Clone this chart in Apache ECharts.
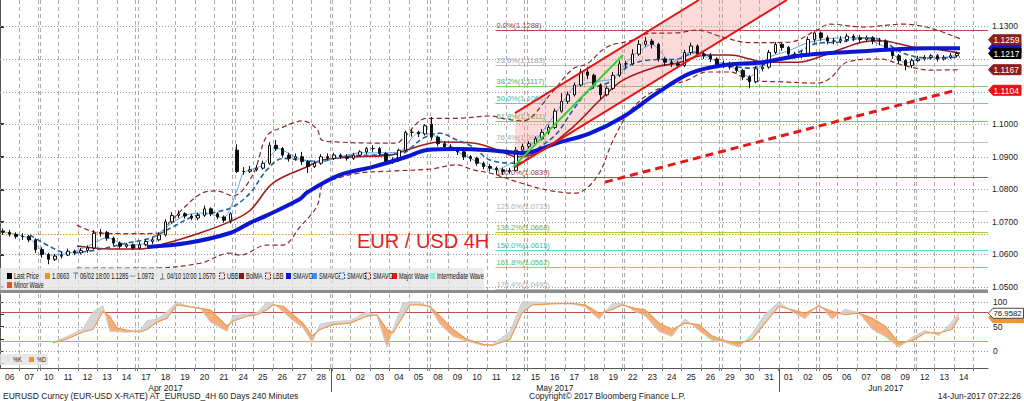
<!DOCTYPE html>
<html><head><meta charset="utf-8">
<script src="https://cdn.jsdelivr.net/npm/echarts@6/dist/echarts.min.js"></script>
<style>html,body{margin:0;padding:0;background:#fff}#c{width:1024px;height:401px}</style>
</head><body><div id="c"></div><script>
// ---------------- DATA ----------------
const dayLabels = ['06','07','10','11','12','13','14','17','18','19','20','21','24','25','26','27','28','01','02','03','04','05','08','09','10','11','12','15','16','17','18','19','22','23','24','25','26','29','30','31','01','02','05','06','07','08','09','12','13','14'];
const monthLabels = ['Apr 2017','May 2017','Jun 2017'];
const monthDayIdx = [8, 28, 45];
const monthBreaks = [17, 40];
const weekendBreaks = [2,7,12,17,22,27,32,37,42,47];
const priceGrid = [1.05,1.06,1.07,1.08,1.09,1.10,1.11,1.12,1.13];
const priceLabels = [1.05,1.06,1.07,1.08,1.09,1.10,1.13];
const stochGrid = [100,50,0];
const stochLabels = [0,50,100];
const stochTicks = [-25,0,25,50,75,100];
const stochUpper = 80, stochLower = 20;

// 4H-style candles, 3 per day: [open, close, low, high]
const ohlc = [
[1.0672,1.0668,1.0660,1.0680],[1.0668,1.0662,1.0655,1.0675],[1.0662,1.0655,1.0648,1.0668],
[1.0655,1.0655,1.0645,1.0665],[1.0655,1.0645,1.0638,1.0660],[1.0645,1.0615,1.0605,1.0650],
[1.0615,1.0600,1.0590,1.0622],[1.0600,1.0585,1.0570,1.0605],[1.0585,1.0595,1.0580,1.0602],
[1.0595,1.0598,1.0588,1.0608],[1.0598,1.0610,1.0595,1.0618],[1.0610,1.0605,1.0598,1.0615],
[1.0605,1.0612,1.0600,1.0620],[1.0612,1.0620,1.0605,1.0628],[1.0620,1.0665,1.0615,1.0675],
[1.0665,1.0668,1.0655,1.0678],[1.0668,1.0650,1.0642,1.0672],[1.0650,1.0635,1.0628,1.0655],
[1.0635,1.0625,1.0618,1.0640],[1.0625,1.0630,1.0620,1.0636],[1.0630,1.0620,1.0615,1.0634],
[1.0620,1.0630,1.0615,1.0638],[1.0630,1.0640,1.0625,1.0648],[1.0640,1.0645,1.0632,1.0652],
[1.0645,1.0660,1.0640,1.0668],[1.0660,1.0700,1.0655,1.0708],[1.0700,1.0720,1.0695,1.0730],
[1.0720,1.0725,1.0712,1.0735],[1.0725,1.0718,1.0710,1.0730],[1.0718,1.0712,1.0705,1.0725],
[1.0712,1.0720,1.0705,1.0728],[1.0720,1.0740,1.0715,1.0750],[1.0740,1.0725,1.0718,1.0745],
[1.0725,1.0715,1.0708,1.0730],[1.0715,1.0705,1.0698,1.0720],[1.0705,1.0725,1.0695,1.0730],
[1.0920,1.0855,1.0850,1.0938],[1.0855,1.0855,1.0845,1.0868],[1.0855,1.0860,1.0850,1.0872],
[1.0860,1.0865,1.0855,1.0875],[1.0865,1.0880,1.0860,1.0888],[1.0880,1.0935,1.0875,1.0945],
[1.0935,1.0925,1.0918,1.0951],[1.0925,1.0905,1.0898,1.0930],[1.0905,1.0895,1.0885,1.0912],
[1.0895,1.0900,1.0888,1.0910],[1.0900,1.0885,1.0875,1.0915],[1.0885,1.0870,1.0850,1.0890],
[1.0870,1.0880,1.0865,1.0888],[1.0880,1.0900,1.0875,1.0908],[1.0900,1.0895,1.0888,1.0910],
[1.0895,1.0905,1.0890,1.0912],[1.0905,1.0900,1.0893,1.0910],[1.0900,1.0895,1.0888,1.0908],
[1.0895,1.0905,1.0890,1.0912],[1.0905,1.0915,1.0900,1.0920],[1.0915,1.0925,1.0908,1.0930],
[1.0925,1.0925,1.0915,1.0935],[1.0925,1.0910,1.0902,1.0930],[1.0910,1.0885,1.0875,1.0915],
[1.0885,1.0890,1.0878,1.0898],[1.0890,1.0920,1.0885,1.0925],[1.0920,1.0975,1.0915,1.0980],
[1.0975,1.0975,1.0962,1.0985],[1.0975,1.0970,1.0960,1.0980],[1.0970,1.0995,1.0965,1.1000],
[1.1000,1.0960,1.0950,1.1022],[1.0960,1.0940,1.0932,1.0965],[1.0940,1.0930,1.0922,1.0948],
[1.0930,1.0925,1.0918,1.0938],[1.0925,1.0915,1.0905,1.0930],[1.0915,1.0900,1.0890,1.0920],
[1.0900,1.0895,1.0885,1.0905],[1.0895,1.0880,1.0872,1.0900],[1.0880,1.0870,1.0862,1.0885],
[1.0870,1.0865,1.0855,1.0878],[1.0865,1.0860,1.0845,1.0870],[1.0860,1.0855,1.0844,1.0866],
[1.0855,1.0858,1.0848,1.0866],[1.0858,1.0920,1.0855,1.0930],[1.0920,1.0932,1.0915,1.0940],
[1.0932,1.0940,1.0925,1.0948],[1.0940,1.0955,1.0935,1.0962],[1.0955,1.0975,1.0950,1.0985],
[1.0975,1.0990,1.0968,1.0998],[1.0990,1.1040,1.0985,1.1048],[1.1040,1.1070,1.1035,1.1095],
[1.1070,1.1090,1.1062,1.1100],[1.1090,1.1120,1.1085,1.1128],[1.1120,1.1160,1.1115,1.1170],
[1.1160,1.1150,1.1138,1.1176],[1.1150,1.1120,1.1110,1.1155],[1.1120,1.1090,1.1077,1.1125],
[1.1090,1.1110,1.1085,1.1118],[1.1110,1.1150,1.1105,1.1160],[1.1150,1.1185,1.1145,1.1195],
[1.1185,1.1185,1.1172,1.1195],[1.1185,1.1215,1.1180,1.1230],[1.1215,1.1245,1.1210,1.1258],
[1.1245,1.1255,1.1238,1.1268],[1.1255,1.1245,1.1232,1.1262],[1.1245,1.1200,1.1192,1.1250],
[1.1200,1.1190,1.1178,1.1205],[1.1190,1.1185,1.1175,1.1198],[1.1185,1.1180,1.1172,1.1195],
[1.1180,1.1220,1.1175,1.1228],[1.1220,1.1240,1.1212,1.1250],[1.1240,1.1215,1.1208,1.1245],
[1.1215,1.1210,1.1200,1.1225],[1.1210,1.1200,1.1190,1.1218],[1.1200,1.1180,1.1172,1.1205],
[1.1180,1.1185,1.1172,1.1195],[1.1185,1.1175,1.1168,1.1192],[1.1175,1.1165,1.1158,1.1180],
[1.1165,1.1145,1.1135,1.1170],[1.1145,1.1130,1.1110,1.1150],[1.1130,1.1170,1.1125,1.1178],
[1.1170,1.1175,1.1162,1.1185],[1.1175,1.1220,1.1170,1.1228],[1.1220,1.1245,1.1215,1.1252],
[1.1245,1.1235,1.1225,1.1250],[1.1235,1.1215,1.1205,1.1240],[1.1215,1.1210,1.1200,1.1222],
[1.1210,1.1215,1.1202,1.1225],[1.1215,1.1260,1.1210,1.1268],[1.1260,1.1280,1.1250,1.1285],
[1.1280,1.1265,1.1255,1.1284],[1.1265,1.1255,1.1245,1.1272],[1.1255,1.1255,1.1245,1.1265],
[1.1255,1.1260,1.1248,1.1270],[1.1260,1.1270,1.1252,1.1278],[1.1270,1.1265,1.1255,1.1276],
[1.1265,1.1260,1.1250,1.1273],[1.1260,1.1265,1.1252,1.1272],[1.1265,1.1255,1.1245,1.1270],
[1.1255,1.1255,1.1242,1.1265],[1.1255,1.1230,1.1222,1.1260],[1.1230,1.1210,1.1200,1.1235],
[1.1210,1.1195,1.1185,1.1215],[1.1195,1.1180,1.1165,1.1200],[1.1180,1.1195,1.1172,1.1202],
[1.1195,1.1200,1.1190,1.1210],[1.1200,1.1205,1.1195,1.1212],[1.1205,1.1210,1.1198,1.1215],
[1.1210,1.1200,1.1192,1.1215],[1.1200,1.1205,1.1195,1.1212],[1.1205,1.1210,1.1200,1.1218],
[1.1210,1.1217,1.1205,1.1222]
];

// Moving averages / bands: [day position, price]
const shortMA = [[0.1,1.0670],[0.5,1.0666],[1.5,1.0650],[2.5,1.0598],[3.5,1.0603],[4.5,1.0625],[5.5,1.0652],[6.5,1.0628],[7.5,1.0635],[8.5,1.0682],[9.5,1.0720],[10.5,1.0728],[11.5,1.0712],[12.2,1.0800],[12.5,1.0850],[13.5,1.0875],[14.3,1.0925],[15.0,1.0905],[15.5,1.0890],[16.5,1.0885],[17.5,1.0900],[18.5,1.0912],[19.5,1.0912],[20.5,1.0915],[21.5,1.0975],[22.3,1.0965],[23.0,1.0935],[23.5,1.0915],[24.5,1.0885],[25.5,1.0860],[26.5,1.0890],[27.5,1.0950],[28.5,1.1030],[29.5,1.1115],[30.5,1.1130],[31.5,1.1140],[32.5,1.1210],[33.5,1.1245],[34.5,1.1190],[35.5,1.1222],[36.5,1.1200],[37.5,1.1178],[38.5,1.1145],[39.5,1.1205],[40.5,1.1225],[41.5,1.1250],[42.5,1.1262],[43.5,1.1265],[44.5,1.1262],[45.5,1.1235],[46.5,1.1188],[47.5,1.1203],[48.5,1.1205],[49.2,1.1212]];
const midMA = [[1.54,1.0660],[2.57,1.0624],[3.44,1.0605],[4.78,1.0612],[6.52,1.0635],[7.70,1.0650],[8.89,1.0685],[9.91,1.0716],[11.15,1.0731],[11.97,1.0746],[12.84,1.0788],[13.71,1.0860],[14.54,1.0895],[15.41,1.0890],[16.44,1.0885],[17.46,1.0900],[19.16,1.0905],[20.54,1.0908],[21.73,1.0957],[22.60,1.0972],[23.47,1.0951],[24.29,1.0930],[25.17,1.0890],[26.55,1.0880],[27.74,1.0930],[28.61,1.0972],[29.43,1.1043],[30.30,1.1105],[31.33,1.1130],[32.36,1.1181],[33.38,1.1197],[34.77,1.1200],[35.80,1.1221],[37.13,1.1187],[38.52,1.1172],[39.55,1.1190],[40.93,1.1218],[41.96,1.1248],[43.14,1.1252],[44.32,1.1264],[45.35,1.1258],[46.07,1.1227],[47.10,1.1206],[48.12,1.1203],[49.31,1.1206]];
const longMA = [[7.55,1.0623],[9.60,1.0635],[11.81,1.0666],[12.84,1.0697],[13.71,1.0720],[15.41,1.0770],[15.77,1.0790],[17.46,1.0844],[19.16,1.0869],[20.90,1.0900],[21.93,1.0921],[23.47,1.0924],[25.17,1.0920],[26.86,1.0911],[28.61,1.0942],[30.30,1.0972],[32.00,1.1022],[33.74,1.1095],[35.44,1.1156],[37.13,1.1181],[39.19,1.1190],[40.93,1.1209],[42.63,1.1218],[44.32,1.1224],[46.07,1.1230],[47.77,1.1233],[49.31,1.1233]];
const bolMA = [[3.95,1.0626],[5.65,1.0617],[7.19,1.0617],[8.58,1.0635],[10.27,1.0666],[11.66,1.0697],[12.84,1.0735],[14.02,1.0819],[15.77,1.0869],[16.59,1.0890],[18.34,1.0900],[20.03,1.0905],[20.90,1.0921],[21.73,1.0936],[22.60,1.0945],[24.29,1.0942],[25.68,1.0918],[26.55,1.0900],[27.74,1.0915],[29.43,1.0991],[30.82,1.1074],[32.00,1.1135],[33.74,1.1176],[34.77,1.1187],[36.31,1.1212],[37.49,1.1212],[38.52,1.1200],[39.19,1.1190],[40.93,1.1190],[42.63,1.1218],[44.32,1.1252],[45.20,1.1256],[46.89,1.1237],[47.77,1.1233],[49.31,1.1218]];
const upperBB = [[3.95,1.0690],[4.78,1.0670],[5.65,1.0664],[6.83,1.0664],[8.22,1.0666],[8.73,1.0700],[10.27,1.0785],[11.15,1.0795],[11.97,1.0780],[12.99,1.0845],[13.71,1.0964],[14.54,1.0991],[15.56,1.1010],[16.28,1.0985],[16.54,1.0951],[17.46,1.0945],[19.16,1.0942],[20.39,1.0942],[20.70,1.0956],[21.93,1.1018],[23.47,1.1018],[25.17,1.1025],[26.04,1.1015],[26.86,1.1010],[28.25,1.1090],[29.43,1.1170],[30.15,1.1185],[31.18,1.1237],[32.51,1.1258],[33.38,1.1279],[34.77,1.1280],[35.80,1.1289],[37.13,1.1267],[38.52,1.1250],[40.58,1.1252],[41.96,1.1289],[42.63,1.1307],[44.32,1.1298],[46.38,1.1307],[47.77,1.1295],[49.31,1.1262]];
const lowerBB = [[3.95,1.0558],[7.70,1.0558],[10.27,1.0573],[11.81,1.0604],[12.33,1.0598],[13.71,1.0629],[14.54,1.0629],[15.41,1.0685],[16.28,1.0748],[16.59,1.0819],[17.10,1.0830],[18.34,1.0849],[20.03,1.0856],[22.09,1.0862],[23.47,1.0875],[24.29,1.0860],[25.17,1.0850],[26.71,1.0820],[28.10,1.0798],[29.53,1.0788],[30.66,1.0838],[31.49,1.0950],[32.36,1.1040],[33.54,1.1100],[35.29,1.1135],[36.31,1.1160],[37.49,1.1160],[38.52,1.1135],[40.06,1.1130],[41.96,1.1126],[42.63,1.1140],[43.50,1.1190],[45.20,1.1200],[46.38,1.1181],[47.77,1.1166],[49.31,1.1167]];

// Drawn objects
const refLine = 1.0663;
const channelUpper = [[26.45,1.1034],[35.90,1.1381]];
const channelLower = [[26.45,1.0868],[40.42,1.1381]];
const greenWave = [[26.35,1.0868],[32.00,1.1212]];
const trendLine = [[31.07,1.0822],[49.15,1.1105]];
const fibStart = 25.45;
const fibPct = ['0.0%','23.6%','38.2%','50.0%','61.8%','76.4%','100.0%','123.6%','138.2%','150.0%','161.8%','176.4%'];
const fibVal = [1.1288,1.1183,1.1117,1.1064,1.1011,1.0945,1.0839,1.0733,1.0668,1.0615,1.0562,1.0495];

// Stochastics
const stochX = [2.72,3.44,4.26,4.78,5.29,5.65,6.01,6.52,7.19,7.55,8.06,8.58,9.09,9.60,10.27,10.79,11.66,11.97,12.69,13.20,13.71,14.02,14.54,15.05,15.56,16.03,16.44,17.10,17.98,18.85,19.36,19.88,20.19,20.70,21.06,21.57,22.09,22.60,23.27,23.99,24.81,25.32,26.20,26.81,27.33,28.35,29.38,30.05,30.77,31.43,31.95,32.62,33.13,33.85,34.52,35.18,35.90,36.57,37.24,37.96,38.63,39.29,40.01,40.68,41.35,42.07,42.73,43.40,44.12,44.79,45.46,46.18,46.84,47.51,48.23,48.90,49.26];
const stochD = [17,25,39,44,81,70,47,43,39,44,59,67,94,91,87,84,51,61,71,74,84,94,91,74,57,31,44,54,57,71,74,44,37,71,94,94,91,71,44,24,14,12,24,77,94,96,97,94,77,84,94,87,84,57,44,57,54,31,21,17,24,57,91,84,77,91,81,74,77,67,51,17,21,37,37,44,68];
const stochK = [18,30,45,80,92,40,40,38,42,62,65,80,100,92,88,60,40,72,75,78,100,98,80,62,48,18,55,60,62,80,72,8,45,98,100,100,88,55,30,20,12,14,40,100,100,98,96,90,65,96,98,80,72,40,30,66,42,22,18,8,35,75,100,80,66,96,65,85,78,45,30,8,28,42,32,60,76.9582];

const priceTags = [1.1233,1.1259,1.1217,1.1167,1.1104];

// ---------------- CHART ----------------
const chart = echarts.init(document.getElementById('c'), null, {renderer:'svg'});
const FONT = "'Liberation Sans', Arial, sans-serif";
const XMAX = 50.75;

const vGrid = [];
for (let b = 1; b <= 50; b++) {
  if (weekendBreaks.indexOf(b) >= 0) { vGrid.push(b - 0.07, b + 0.07); } else vGrid.push(b);
}
const fibColors = ['#b54a4a','#bdbdbd','#7ccc6c','#55d0d0','#7ccc6c','#bdbdbd','#b54a4a','#c8c8c8','#aac84a','#6ad4d4','#80d880','#c0c0c0'];
const fibText = ['#a04040','#a0a0a0','#4fae4f','#3bb8b8','#4fae4f','#a8a8a8','#9a3a3a','#b0b0b0','#86a836','#40b8b8','#55b855','#b0b0b0'];

function vLine(stroke) {
  return function(params, api) {
    const x = Math.round(api.coord([api.value(0), 0])[0]) + 0.5;
    const cs = params.coordSys;
    return {type:'line', silent:true, shape:{x1:x, y1:cs.y, x2:x, y2:cs.y + cs.height},
      style:{stroke: stroke, lineWidth:1, lineDash:[4,3]}};
  };
}
function hLine(stroke, dash, width) {
  return function(params, api) {
    const y = Math.round(api.coord([0, api.value(1)])[1]) + 0.5;
    const cs = params.coordSys;
    return {type:'line', silent:true, shape:{x1:cs.x, y1:y, x2:cs.x + cs.width, y2:y},
      style:{stroke: stroke, lineWidth: width || 1, lineDash: dash}};
  };
}

// band segments between %K and %D
const stochSeg = [];
for (let i = 0; i < stochX.length - 1; i++) {
  stochSeg.push([stochX[i], stochX[i+1], stochK[i], stochK[i+1], stochD[i], stochD[i+1]]);
}
const ORANGE_FILL = 'rgba(244,160,100,0.85)', GRAY_FILL = 'rgba(210,210,210,0.9)';
function bandItem(params, api) {
  const x0 = api.value(0), x1 = api.value(1), k0 = api.value(2), k1 = api.value(3), d0 = api.value(4), d1 = api.value(5);
  const c = (x, y) => api.coord([x, y]);
  const col = d => d > 0 ? ORANGE_FILL : GRAY_FILL;
  const a0 = d0 - k0, a1 = d1 - k1;
  const ch = [];
  if (a0 * a1 < 0) {
    const t = a0 / (a0 - a1);
    const xm = x0 + (x1 - x0) * t, ym = k0 + (k1 - k0) * t;
    ch.push({type:'polygon', shape:{points:[c(x0,k0), c(xm,ym), c(x0,d0)]}, style:{fill: col(a0)}});
    ch.push({type:'polygon', shape:{points:[c(xm,ym), c(x1,k1), c(x1,d1)]}, style:{fill: col(a1)}});
  } else {
    ch.push({type:'polygon', shape:{points:[c(x0,k0), c(x1,k1), c(x1,d1), c(x0,d0)]}, style:{fill: col(a0 + a1)}});
  }
  return {type:'group', children: ch};
}

const candleData = ohlc.map((r, j) => [Math.floor(j / 3) + ((j % 3) + 0.5) / 3, r[0], r[1], r[2], r[3]]);

const lineS = (data, color, width, type, z, smooth) => ({
  type:'line', xAxisIndex:0, yAxisIndex:0, data: data, symbol:'none', smooth: smooth === undefined ? 0.35 : smooth,
  lineStyle:{color: color, width: width, type: type || 'solid'}, z: z, silent:true
});

chart.setOption({
  animation:false,
  textStyle:{fontFamily: FONT},
  grid:[
    {left:0, top:0, width:988, height:290},
    {left:0, top:294, width:988, height:74}
  ],
  xAxis:[
    {type:'value', gridIndex:0, min:0, max:XMAX, show:false},
    {type:'value', gridIndex:1, min:0, max:XMAX,
      axisLine:{show:true, onZero:false, lineStyle:{color:'#555'}},
      axisTick:{show:true, length:3, customValues: vGrid, lineStyle:{color:'#777'}},
      axisLabel:{customValues: dayLabels.map((d, i) => i + 0.5), formatter: v => dayLabels[Math.floor(v)],
        fontSize:8.5, color:'#222', margin:4, hideOverlap:false},
      splitLine:{show:false}},
    {type:'value', gridIndex:1, min:0, max:XMAX, position:'bottom', offset:11,
      axisLine:{show:false, onZero:false}, axisTick:{show:false},
      axisLabel:{customValues: monthDayIdx.map(i => i + 0.5),
        formatter: v => monthLabels[monthDayIdx.indexOf(Math.floor(v))], fontSize:8.5, color:'#222', margin:4},
      splitLine:{show:false}}
  ],
  yAxis:[
    {type:'value', gridIndex:0, position:'right', min:1.0491, max:1.1381,
      axisLine:{show:true, lineStyle:{color:'#555'}},
      axisTick:{show:true, length:4, customValues: priceLabels, lineStyle:{color:'#333', width:2}},
      axisLabel:{customValues: priceLabels, formatter: v => v.toFixed(4), fontSize:8.5, color:'#222', margin:4},
      splitLine:{show:false}},
    {type:'value', gridIndex:1, position:'right', min:-34, max:116,
      axisLine:{show:true, lineStyle:{color:'#555'}},
      axisTick:{show:true, length:4, customValues: stochTicks, lineStyle:{color:'#333'}},
      axisLabel:{customValues: stochLabels, formatter: v => String(v), fontSize:8.5, color:'#222', margin:5},
      splitLine:{show:false}}
  ],
  series:[
    // grid lines main
    {type:'custom', xAxisIndex:0, yAxisIndex:0, data: vGrid.map(v => [v, 1.1]), renderItem: vLine('#ababab'), z:1, silent:true},
    {type:'custom', xAxisIndex:0, yAxisIndex:0, data: priceGrid.map(v => [1, v]), renderItem: hLine('#9a9a9a', [1,2]), z:1, silent:true},
    // fibonacci
    {type:'custom', xAxisIndex:0, yAxisIndex:0, z:2, silent:true,
      data: fibVal.map((v, i) => [fibStart, v, i]),
      renderItem: function(params, api) {
        const i = api.value(2);
        const p = api.coord([api.value(0), api.value(1)]);
        const cs = params.coordSys;
        const y = Math.round(p[1]) + 0.5;
        return {type:'group', children:[
          {type:'line', shape:{x1:p[0], y1:y, x2:cs.x + cs.width, y2:y}, style:{stroke: fibColors[i], lineWidth:1}},
          {type:'text', x:p[0] + 1, y:y - 1, style:{text: fibPct[i] + '(' + fibVal[i].toFixed(4) + ')', fill: fibText[i],
            fontSize:7.5, fontFamily: FONT, align:'left', verticalAlign:'bottom'}}
        ]};
      }},
    // reference (orange dotted) line
    {type:'custom', xAxisIndex:0, yAxisIndex:0, data:[[1, refLine]], renderItem: hLine('#e8962a', [1.5,1.5], 1.2), z:2, silent:true},
    // channel fill
    {type:'custom', xAxisIndex:0, yAxisIndex:0, z:2, silent:true, data:[[30, 1.1]],
      renderItem: function(params, api) {
        const pts = [channelUpper[0], channelUpper[1], channelLower[1], channelLower[0]].map(p => api.coord(p));
        return {type:'polygon', shape:{points: pts}, style:{fill:'rgba(245,150,150,0.35)'}};
      }},
    // MAs and bands
    lineS(lowerBB, '#8c2a2a', 1.2, [5,3], 3),
    lineS(upperBB, '#8c2a2a', 1.2, [5,3], 3),
    lineS(bolMA, '#a01a1a', 1.6, 'solid', 3),
    lineS(midMA, '#24609e', 1.6, [5,3], 3),
    lineS(shortMA, '#5aa6e8', 1, 'solid', 3, 0.2),
    // candles
    {type:'candlestick', xAxisIndex:0, yAxisIndex:0, data: candleData, encode:{x:0, y:[1,2,3,4]}, barWidth:3, z:4, silent:true,
      itemStyle:{color:'#ffffff', color0:'#111111', borderColor:'#111111', borderColor0:'#111111', borderWidth:1}},
    lineS(longMA, '#0a16d2', 4, 'solid', 5),
    // drawn waves
    lineS(channelUpper, '#e51515', 2, 'solid', 6, false),
    lineS(channelLower, '#e51515', 2, 'solid', 6, false),
    lineS(greenWave, '#35d235', 2, 'solid', 6, false),
    lineS(trendLine, '#e51818', 3, [8,5], 6, false),

    // --- stochastics panel ---
    {type:'custom', xAxisIndex:1, yAxisIndex:1, data: vGrid.map(v => [v, 50]), renderItem: vLine('#ababab'), z:1, silent:true},
    {type:'custom', xAxisIndex:1, yAxisIndex:1, data: stochGrid.map(v => [1, v]), renderItem: hLine('#9a9a9a', [1,2]), z:1, silent:true},
    {type:'custom', xAxisIndex:1, yAxisIndex:1, data: [[1, stochUpper]], renderItem: hLine('#c05050', null, 1.2), z:2, silent:true},
    {type:'custom', xAxisIndex:1, yAxisIndex:1, data: [[1, stochLower]], renderItem: hLine('#6ad86a', null, 1.2), z:2, silent:true},
    {type:'custom', xAxisIndex:1, yAxisIndex:1, data: stochSeg, encode:{x:[0,1], y:[2,3,4,5]}, renderItem: bandItem, z:3, silent:true},
    {type:'line', xAxisIndex:1, yAxisIndex:1, data: stochX.map((x, i) => [x, stochK[i]]), symbol:'none', lineStyle:{color:'#cdcdcd', width:1}, z:4, silent:true},
    {type:'line', xAxisIndex:1, yAxisIndex:1, data: stochX.map((x, i) => [x, stochD[i]]), symbol:'none', lineStyle:{color:'#ee9a50', width:1.2}, z:4, silent:true}
  ]
});

// ---------------- GRAPHICS (legend, tags, footer) ----------------
const px = v => chart.convertToPixel({xAxisIndex:1}, v);
const py0 = v => chart.convertToPixel({yAxisIndex:0}, v);
const py1 = v => chart.convertToPixel({yAxisIndex:1}, v);
const G = [];
const txt = (x, y, s, opt, props) => G.push(Object.assign({type:'text', x:x, y:y, z:50,
  style:Object.assign({text:s, fill:'#222', fontSize:8.5, fontFamily:FONT, verticalAlign:'middle', align:'left'}, (opt||{}))}, props || {}));

// separator band between panels
G.push({type:'rect', shape:{x:0, y:290, width:988, height:3}, style:{fill:'#8c8c8c'}, z:40});
// month separators
monthBreaks.forEach(b => {
  const x = Math.round(px(b)) + 0.5;
  G.push({type:'line', shape:{x1:x, y1:368, x2:x, y2:392}, style:{stroke:'#555', lineWidth:1}, z:40});
});

// main legend
G.push({type:'rect', shape:{x:0, y:268, width:484, height:22}, style:{fill:'rgba(228,228,228,0.78)'}, z:45});
const legendItems = [
  ['Last Price',14,276,'sq','#000000'],
  ['1.0663',52,276,'sq','#e8961e'],
  ['06/02 18:00 1.1285',80,276,'hi','#888'],
  ['1.0972',137,276,'avg','#888'],
  ['04/10 10:00 1.0570',167,276,'lo','#888'],
  ['UBB',227,276,'dash','#8c2a2a'],
  ['BolMA',246,276,'sq','#8c1414'],
  ['LBB',273,276,'dash','#8c2a2a'],
  ['SMAVG',293,276,'sq','#0a16d2'],
  ['SMAVG',319,276,'sq','#3d8ff0'],
  ['SMAVG',347,276,'dash','#24609e'],
  ['SMAVG',373,276,'dash','#a02020'],
  ['Major Wave',399,276,'sq','#e51515'],
  ['Intermediate Wave',437,276,'sq','#96ecd2'],
  ['Minor Wave',14,285,'sq','#f05020']
];
legendItems.forEach(it => {
  const [t, x, y, icon, c] = it;
  if (icon === 'sq') G.push({type:'rect', shape:{x:x-7, y:y-3, width:5, height:6}, style:{fill:c}, z:46});
  else if (icon === 'dash') G.push({type:'rect', shape:{x:x-7.5, y:y-3, width:5, height:6}, style:{fill:'none', stroke:c, lineWidth:1, lineDash:[2,1]}, z:46});
  else if (icon === 'hi') G.push({type:'polyline', shape:{points:[[x-7,y-3],[x-2,y-3],[x-4.5,y-3],[x-4.5,y+3]]}, style:{stroke:c, fill:'none'}, z:46});
  else if (icon === 'lo') G.push({type:'polyline', shape:{points:[[x-4.5,y-3],[x-4.5,y+3],[x-7,y+3],[x-2,y+3]]}, style:{stroke:c, fill:'none'}, z:46});
  else if (icon === 'avg') G.push({type:'line', shape:{x1:x-7, y1:y, x2:x-2, y2:y}, style:{stroke:c}, z:46});
  txt(x, y, t, {fontSize:8.5, fill:'#111'}, {scaleX:0.66, z:47});
});

// title
txt(357, 241, 'EUR / USD 4H', {fontSize:20, fill:'#e21f1f', verticalAlign:'middle'});

// stochastics legend
G.push({type:'rect', shape:{x:0, y:354, width:48, height:11}, style:{fill:'rgba(228,228,228,0.85)'}, z:45});
G.push({type:'rect', shape:{x:5, y:357, width:5, height:5}, style:{fill:'#e4e4e4'}, z:46});
G.push({type:'rect', shape:{x:29, y:357, width:5, height:5}, style:{fill:'#f0962a'}, z:46});
txt(13, 359.5, '%K', {fontSize:7.5}, {scaleX:0.75, z:47});
txt(37, 359.5, '%D', {fontSize:7.5}, {scaleX:0.75, z:47});

// price tags
let tagZ = 60;
function tag(y, bg, fg, s, border, right, fs) {
  const h = 10, r = right || 1021;
  G.push({type:'polygon', z:tagZ, shape:{points:[[988.5,y],[993,y-h/2],[r,y-h/2],[r,y+h/2],[993,y+h/2]]},
    style:{fill:bg, stroke: border || bg, lineWidth:1}});
  if (s) txt(993.5, y + 0.5, s, {fill:fg, fontSize: fs || 8.5}, {z:tagZ + 1});
  tagZ += 2;
}
const tagColors = ['#1414c8','#8e1c1c','#000000','#8e1c1c','#e81010'];
priceTags.forEach((v, i) => tag(py0(v), tagColors[i], '#fff', i === 0 ? '' : v.toFixed(4)));
// stochastic tags
tag(py1(stochD[stochD.length-1]), '#f0962a', '#fff', '', null, 1024);
tag(py1(stochK[stochK.length-1]), '#ffffff', '#111', stochK[stochK.length-1].toFixed(4), '#444', 1023.5, 7.8);

// footer
txt(3, 396, 'EURUSD Curncy (EUR-USD X-RATE) AT_EURUSD_4H 60 Days 240 Minutes', {fontSize:8.5});
txt(529, 396, 'Copyright\u00a9 2017 Bloomberg Finance L.P.', {fontSize:8.5});
txt(1021, 396, '14-Jun-2017 07:22:26', {fontSize:8.5, align:'right'});

chart.setOption({graphic: G});
</script></body></html>
